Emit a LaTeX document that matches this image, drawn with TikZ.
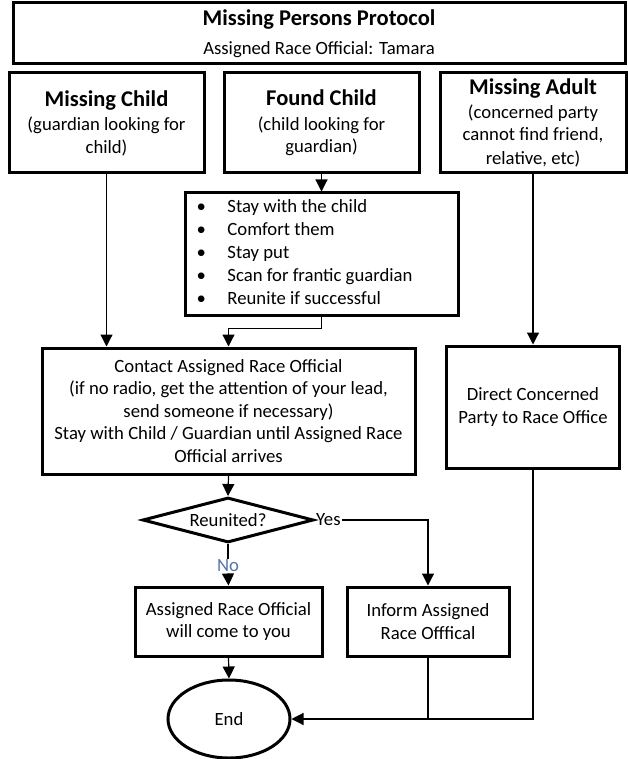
\documentclass[tikz,border=0pt]{standalone}
\usepackage{fontspec}
\setmainfont{Carlito}
\usetikzlibrary{arrows.meta}
\usetikzlibrary{shapes.geometric}
\usetikzlibrary{positioning}
\definecolor{noblue}{RGB}{84,116,170}
\tikzset{box/.style = {draw, line width = 3, inner sep = 0, align = center, font = \fontsize{18.7}{22.5}\selectfont}}
\tikzset{arr/.style = {line width = 1.2, -{Triangle[width = 12, length = 12]}}}
\tikzset{lnk/.style = {line width = 1.2}}
\newcommand{\hd}[1]{{\fontsize{22.5}{27}\selectfont\bfseries #1}}

\begin{document}
\begin{tikzpicture}[x = 1pt, y = -1pt]
      \useasboundingbox (0, 0) rectangle (627, 759);
      % title
      \node [box, minimum width = 612, minimum height = 61] (title) at (319, 33.5)
        {\hd{Missing Persons Protocol}\\[7pt]Assigned Race Official: Tamara};
      % three cases
      \node [box, minimum width = 195, minimum height = 100] (mchild) at (106.5, 123)
        {\hd{Missing Child}\\[2pt](guardian looking for\\child)};
      \node [box, minimum width = 195, minimum height = 100] (fchild) at (321.5, 123)
        {\hd{Found Child}\\[2pt](child looking for\\guardian)};
      \node [box, minimum width = 186, minimum height = 100] (madult) at (533, 123)
        {\hd{Missing Adult}\\[1pt](concerned party\\cannot find friend,\\[1pt]relative, etc)};
      % steps
      \node [box, minimum height = 122, align = none, anchor = west] (steps) at (184, 254)
        {\makebox[273pt][l]{\hspace{11pt}\renewcommand{\arraystretch}{1.03}%
        \begin{tabular}{@{}p{31pt}@{}l@{}}
          \textbullet & Stay with the child\\
          \textbullet & Comfort them\\
          \textbullet & Stay put\\
          \textbullet & Scan for frantic guardian\\
          \textbullet & Reunite if successful
        \end{tabular}}};
      \node [box, minimum width = 373, minimum height = 126] (contact) at (228.5, 411)
        {Contact Assigned Race Official\\(if no radio, get the attention of your lead,\\send someone if necessary)\\Stay with Child / Guardian until Assigned Race\\Official arrives};
      \node [box, minimum width = 173, minimum height = 122] (direct) at (533, 407)
        {Direct Concerned\\Party to Race Office};
      \node [box, diamond, aspect = 3.8, minimum width = 171, minimum height = 45] (reunite) at (228, 520)
        {Reunited?};
      \node [font = \fontsize{18.7}{22.5}\selectfont, inner sep = 1, anchor = west] (yes) at (reunite.east) {Yes};
      \node [font = \fontsize{18.7}{22.5}\selectfont, text = noblue, inner sep = 1] (no) at (228, 566) {No};
      \node [box, minimum width = 187, minimum height = 69] (assigned) at (228.5, 621.5)
        {Assigned Race Official\\will come to you};
      \node [box, minimum width = 162, minimum height = 69] (inform) at (428, 621.5)
        {Inform Assigned\\Race Offfical};
      \node [box, ellipse, minimum width = 122, minimum height = 78] (end) at (229, 719) {End};
      % connectors
      \draw [arr] (mchild.south) -- (mchild.south |- contact.north);
      \draw [arr] (fchild.south) -- (fchild.south |- steps.north);
      \draw [arr] (fchild.south |- steps.south) -- ++(0, 12) -| (contact.north);
      \draw [arr] (madult.south) -- (direct.north);
      \draw [arr] (contact.south) -- (reunite.north);
      \draw [arr] (yes.east) -| (inform.north);
      \draw [lnk] (reunite.south) -- (no.north);
      \draw [arr] (no.south) -- (assigned.north);
      \draw [arr] (assigned.south) -- (end.north);
      \draw [lnk] (inform.south) -- (inform.south |- end.east);
      \draw [arr] (direct.south) |- (end.east);
    \end{tikzpicture}
\end{document}
